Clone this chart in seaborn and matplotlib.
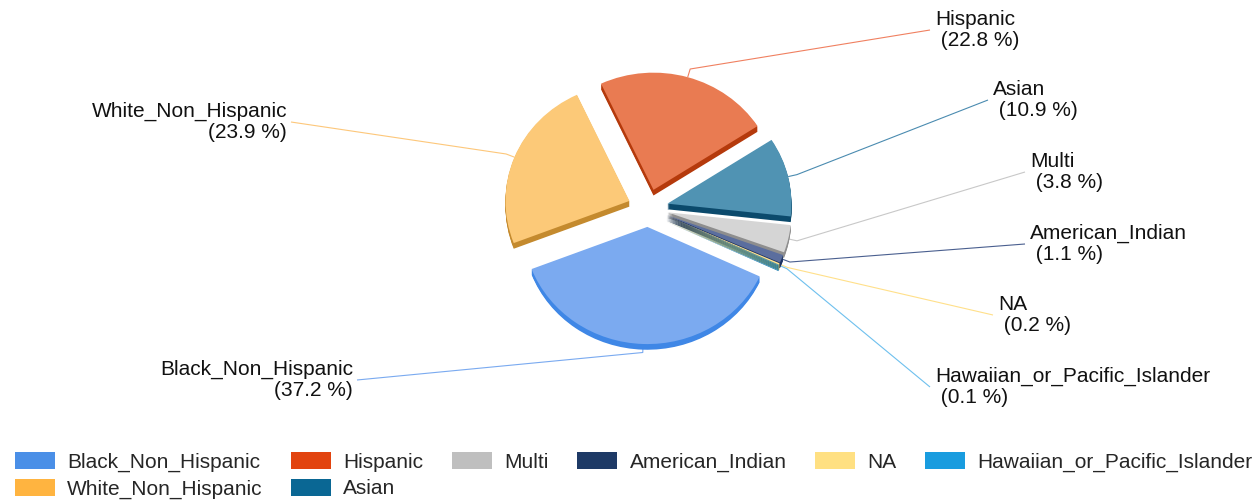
import matplotlib
matplotlib.use("Agg")
import matplotlib.pyplot as plt
import matplotlib.patches as mpatches
import numpy as np
import seaborn as sns

# ---- data ----
categories = ["Black_Non_Hispanic", "White_Non_Hispanic", "Hispanic", "Asian",
              "Multi", "American_Indian", "NA", "Hawaiian_or_Pacific_Islander"]
shares = [37.2, 23.9, 22.8, 10.9, 3.8, 1.1, 0.2, 0.1]

legend_colors = ["#4A8FE7", "#FFB440", "#E2440F", "#0A6794",
                 "#BFBFBF", "#1E3A66", "#FFE082", "#199CDF"]
face_colors = ["#7BAAF0", "#FCC978", "#E97B52", "#5093B3",
               "#D5D5D5", "#5B6E9E", "#FFE391", "#2F8FC5"]
side_colors = ["#3F87E6", "#C48A2E", "#B53A0C", "#0B4A6C",
               "#8E8E8E", "#1C3260", "#D9B650", "#0A74AE"]
line_colors = ["#7AAAF0", "#FDC77A", "#F08060", "#4A8BB0",
               "#C8C8C8", "#4A5F8F", "#FFE08A", "#6EC0EE"]

# ---- layout (pixels, top-down y) ----
W, H = 1259, 500
label_layout = {
    "Black_Non_Hispanic": (353, 380, "right"),
    "White_Non_Hispanic": (287, 122, "right"),
    "Hispanic": (935, 30, "left"),
    "Asian": (993, 100, "left"),
    "Multi": (1030, 172, "left"),
    "American_Indian": (1030, 244, "left"),
    "NA": (998, 315, "left"),
    "Hawaiian_or_Pacific_Islander": (935, 387, "left"),
}
SQ = 0.945  # vertical squash of the tilted pie

sns.set_theme(style="white")
plt.rcParams['font.family'] = ['Liberation Sans', 'DejaVu Sans']

fig = plt.figure(figsize=(W / 100, H / 100), dpi=100)
ax = fig.add_axes([0, 0, 1, 1])

cx, cy = 648, (H - 208) / SQ
R = 124
EXPL = 20
DEPTH = 6
explode = [EXPL] * len(shares)

# extruded side walls (pie drawn at several depths)
for t in range(DEPTH, 0, -1):
    side_w, _ = ax.pie(shares, colors=side_colors, startangle=335, counterclock=False,
                       radius=R, center=(cx, cy - t), explode=explode,
                       wedgeprops=dict(linewidth=0), frame=True)
    for i, sw in enumerate(side_w):
        sw.set_zorder(1 + 0.01 * i)

wedges, _ = ax.pie(shares, colors=face_colors, startangle=335, counterclock=False,
                   radius=R, center=(cx, cy), explode=explode,
                   wedgeprops=dict(linewidth=0), frame=True)
for fw in wedges:
    fw.set_zorder(2)

for w, cat, val, lc in zip(wedges, categories, shares, line_colors):
    tm = np.deg2rad((w.theta1 + w.theta2) / 2)
    wx, wy = w.center
    p = (wx + w.r * np.cos(tm), wy + w.r * np.sin(tm))
    k = (wx + (w.r + 9) * np.cos(tm), wy + (w.r + 9) * np.sin(tm))
    tx, ty_top, ha = label_layout[cat]
    ty = (H - ty_top) / SQ
    if ha == "left":
        end = (tx - 5, ty)
        txt = f"{cat}\n ({val} %)"
    else:
        end = (tx + 4, ty)
        txt = f"{cat}\n({val} %)"
    ax.plot([p[0], k[0], end[0]], [p[1], k[1], end[1]], color=lc, lw=0.8,
            solid_capstyle="butt", zorder=0.5)
    ax.text(tx, ty, txt, ha=ha, va="center", multialignment=ha,
            fontsize=15, color="#111111", linespacing=1.15)

ax.set_aspect("auto")
ax.set_xlim(0, W)
ax.set_ylim(0, H / SQ)
ax.axis("off")

handles = [mpatches.Patch(facecolor=c, edgecolor="none", label=cat)
           for c, cat in zip(legend_colors, categories)]
fig.legend(handles=handles, ncol=6, loc="upper left",
           bbox_to_anchor=(15 / W, 1 - 452 / H), frameon=False, fontsize=15,
           handlelength=1.92, handleheight=0.87, handletextpad=0.58,
           columnspacing=1.38, labelspacing=0.34, borderpad=0, borderaxespad=0)

fig.savefig("out.png", dpi=100)
